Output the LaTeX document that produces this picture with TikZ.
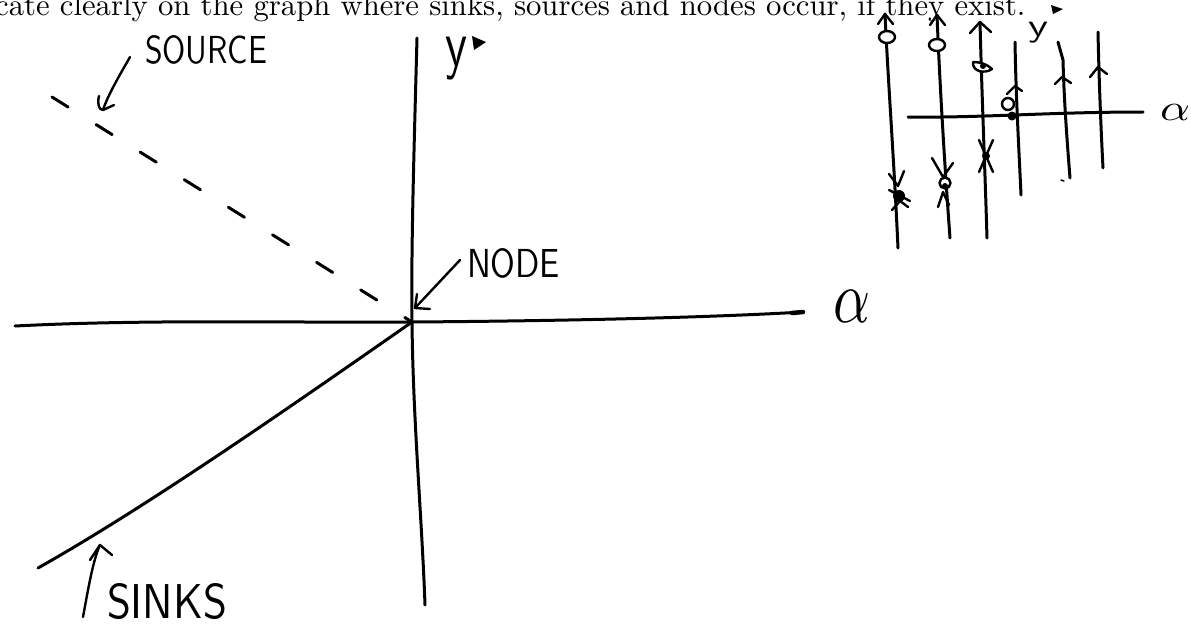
\documentclass[tikz,border=0pt]{standalone}
\usepackage{graphicx}
\begin{document}
\begin{tikzpicture}[x=1pt,y=-1pt,
  pen/.style={line width=3pt, line cap=round, line join=round},
  hand/.style={line width=2.4pt, line cap=round, line join=round},
  lbl/.style={inner sep=0pt, outer sep=0pt, anchor=north west, font=\sffamily}]
\useasboundingbox (0,0) rectangle (1191,625);

% question text (cut at the left and top, as in the scan)
\node[inner sep=0pt, anchor=base west] (question) at (-5,15)
  {\resizebox{1030pt}{!}{cate clearly on the graph where sinks, sources and nodes occur, if they exist.}};

% ---------- main graph ----------
\coordinate (ytop) at (417,38);
\coordinate (O) at (412,322);
\coordinate (ybot) at (425,605);
\coordinate (xl) at (15,326);
\coordinate (xr) at (803,312);
\coordinate (sk) at (38,568);
\coordinate (sd) at (52,97);

\draw[pen] (ytop) .. controls (414,150) and (411,250) .. (O)
           .. controls (413,420) and (422,520) .. (ybot);
\draw[pen] (xl) .. controls (150,319) and (300,323) .. (O)
           .. controls (550,321) and (700,318) .. (xr);
\draw[line width=4.5pt, line cap=round] (792,313) -- (xr);
\draw[pen] (sk) .. controls (150,505) and (300,400) .. (O);
\draw[pen, dash pattern=on 19pt off 33pt] (sd) -- (O);

% labels of axes
\node[lbl] (ylab) at (445,37) {\resizebox*{22pt}{43pt}{y}};
\fill (472,36) -- (486,42) -- (474,50) -- cycle;
\node[lbl] (alab) at (833,290) {\resizebox*{37pt}{32pt}{$\alpha$}};

% SOURCE
\coordinate (srcA) at (130,57);
\coordinate (srcTip) at (103,110);
\draw[hand] (srcA) .. controls (118,78) and (108,95) .. (srcTip);
\draw[hand] (99,96) .. controls (97,104) and (99,110) .. (srcTip) -- (114,105);
\node[lbl] (source) at (145,35) {\resizebox{122pt}{28pt}{SOURCE}};

% NODE
\coordinate (nA) at (460,260);
\coordinate (nTip) at (415,308);
\draw[hand] (nA) -- (nTip);
\draw[hand] (417,294) -- (nTip) -- (430,309);
\node[lbl] (nodelab) at (467,248) {\resizebox{93pt}{29pt}{NODE}};

% SINKS
\coordinate (sA) at (83,617);
\coordinate (sTip) at (100,545);
\draw[hand] (sA) .. controls (88,590) and (93,560) .. (sTip);
\draw[hand] (90,560) -- (sTip) -- (112,555);
\node[lbl] (sinks) at (107,583) {\resizebox{120pt}{35pt}{SINKS}};

% ---------- small phase line diagram ----------
\coordinate (al) at (908,117);
\coordinate (ar) at (1143,112);
\draw[pen] (al) .. controls (980,118) and (1050,112) .. (ar);
\node[lbl] (alab2) at (1160,104) {\resizebox*{30pt}{16pt}{$\alpha$}};
\node[lbl] (ylab2) at (1028,22) {\resizebox*{20pt}{21pt}{y}};
\fill (1051,5) -- (1063,9) -- (1053,14) -- cycle;

% line 1
\coordinate (l1t) at (885,14);
\coordinate (l1b) at (898,248);
\draw[pen] (l1t) .. controls (888,80) and (894,160) .. (l1b);
\draw[hand] (878,24) -- (l1t) -- (893,24);
\draw[hand, fill=white] (887,37) ellipse (8pt and 6pt);
\draw[hand] (889,174) -- (898,186) -- (904,171);
\fill (899,196) circle (6pt);
\draw[hand] (889,190) -- (910,201);
\draw[hand] (892,210) -- (900,201) -- (908,207);

% line 2
\coordinate (l2t) at (937,15);
\coordinate (l2b) at (950,238);
\draw[pen] (l2t) .. controls (940,90) and (945,170) .. (l2b);
\draw[hand] (930,25) -- (l2t) -- (945,25);
\draw[hand, fill=white] (937,45) ellipse (8pt and 6pt);
\draw[hand] (932,158) -- (943,177) -- (953,163);
\draw[hand, fill=white] (945,183) circle (5.5pt);
\fill (945,186) circle (3pt);
\draw[hand] (938,207) -- (943,192) -- (949,205);

% line 3
\coordinate (l3t) at (980,22);
\coordinate (l3b) at (987,238);
\draw[pen] (l3t) .. controls (982,100) and (985,170) .. (l3b);
\draw[hand] (970,33) -- (l3t) -- (991,32);
\draw[hand, fill=white] (973,62) .. controls (972,72) and (985,74) .. (992,69)
      .. controls (987,64) and (980,62) .. (973,62);
\fill (983,66) circle (3pt);
\draw[hand] (979,140) -- (993,172);
\draw[hand] (993,140) -- (979,172);
\fill (986,156) circle (4pt);

% line 4
\coordinate (l4t) at (1015,42);
\coordinate (l4b) at (1021,195);
\draw[pen] (l4t) .. controls (1016,100) and (1019,150) .. (l4b);
\draw[hand] (1007,94) -- (1015,86) -- (1022,91);
\draw[hand, fill=white] (1008,104) circle (6pt);
\fill (1012,116) circle (4.5pt);

% line 5
\coordinate (l5t) at (1058,42);
\coordinate (l5k) at (1063,60);
\coordinate (l5b) at (1070,178);
\draw[pen] (l5t) -- (l5k) .. controls (1064,100) and (1067,140) .. (l5b);
\draw[hand] (1055,84) -- (1062,77) -- (1071,83);
\draw[line width=1.5pt, line cap=round] (1061,180) -- (1064,181);

% line 6
\coordinate (l6t) at (1098,32);
\coordinate (l6b) at (1103,168);
\draw[pen] (l6t) .. controls (1099,80) and (1101,130) .. (l6b);
\draw[hand] (1090,77) -- (1098,67) -- (1107,74);
\end{tikzpicture}
\end{document}
